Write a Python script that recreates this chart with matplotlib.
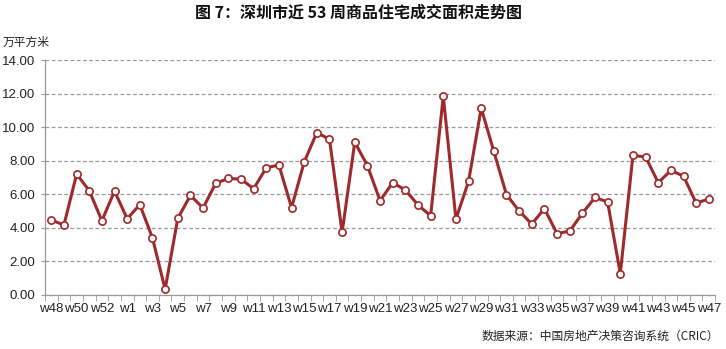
import matplotlib
matplotlib.use("Agg")
import matplotlib.pyplot as plt
import numpy as np

weeks = ["w48", "w49", "w50", "w51", "w52", "w53"] + [f"w{i}" for i in range(1, 48)]
values = [4.46, 4.17, 7.20, 6.21, 4.42, 6.19, 4.54, 5.38, 3.39, 0.34,
          4.56, 5.93, 5.18, 6.65, 6.94, 6.90, 6.33, 7.58, 7.74, 5.20,
          7.92, 9.68, 9.27, 3.73, 9.11, 7.70, 5.62, 6.69, 6.25, 5.36,
          4.72, 11.85, 4.52, 6.77, 11.13, 8.55, 5.97, 5.00, 4.23, 5.14,
          3.65, 3.81, 4.86, 5.81, 5.54, 1.27, 8.31, 8.23, 6.69, 7.42,
          7.08, 5.48, 5.71]
yticks = [0, 2, 4, 6, 8, 10, 12, 14]

cjk = ["Noto Sans CJK SC", "DejaVu Sans"]
num = ["Liberation Sans", "DejaVu Sans"]

fig = plt.figure(figsize=(7.26, 3.49), dpi=100)
ax = fig.add_axes([0.062, 0.155, 0.923, 0.673])

x = np.arange(len(values))
ax.plot(x, values, color="#9E2A2B", lw=2.2, marker="o", ms=5.2,
        mfc="white", mec="#9E2A2B", mew=1.2, zorder=3)

ax.set_xlim(-0.5, len(values) - 0.5)
ax.set_ylim(0, 14)
ax.set_yticks(yticks)
ax.set_yticklabels([f"{v:.2f}" for v in yticks], family=num, fontsize=9.5, color="#222222")
ax.yaxis.grid(True, ls=(0, (3, 2)), color="#999999", lw=0.9)
ax.set_axisbelow(True)

ax.set_xticks(x[::2])
ax.set_xticklabels(weeks[::2], family=num, fontsize=9.5, color="#222222")
ax.set_xticks(np.arange(-0.5, len(values)), minor=True)
ax.tick_params(axis="x", which="major", length=0, pad=6)
ax.tick_params(axis="x", which="minor", length=4, color="#999999")
ax.tick_params(axis="y", length=3, color="#999999", pad=4)

for s in ["top", "right"]:
    ax.spines[s].set_visible(False)
for s in ["left", "bottom"]:
    ax.spines[s].set_color("#999999")
    ax.spines[s].set_linewidth(0.9)

fig.text(0.494, 0.963, "图 7：深圳市近 53 周商品住宅成交面积走势图", ha="center", va="center",
         family=cjk, fontsize=11.5, fontweight="bold", color="#111111")
fig.text(0.004, 0.878, "万平方米", ha="left", va="center", family=cjk, fontsize=8.5, color="#222222")
fig.text(0.99, 0.035, "数据来源：中国房地产决策咨询系统（CRIC）", ha="right", va="center",
         family=cjk, fontsize=8.5, color="#222222")

fig.savefig("out.png", dpi=100)
